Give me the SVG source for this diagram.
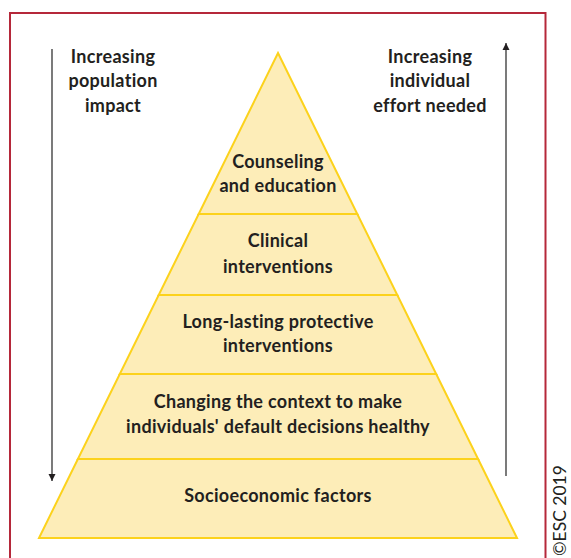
<svg xmlns="http://www.w3.org/2000/svg" width="571" height="558" viewBox="0 0 571 558">
<defs>
<style>
.t{font-family:Lato,"Open Sans","Liberation Sans",sans-serif;font-weight:bold;font-size:18px;letter-spacing:0.3px;fill:#231f20;text-anchor:middle}
.layer{fill:#fdedb8;stroke:#fcd21c;stroke-width:2;stroke-linejoin:miter}
.arr{stroke:#333;stroke-width:1.3;fill:none}
</style>
<marker id="ah" viewBox="0 0 10 10" refX="10" refY="5" markerWidth="7" markerHeight="10" markerUnits="userSpaceOnUse" orient="auto">
<path d="M0,0 L10,5 L0,10 Z" fill="#231f20"/>
</marker>
</defs>
<rect width="571" height="558" fill="#fff"/>
<path d="M10,560 V13 H545.5 V560" fill="none" stroke="#b5283a" stroke-width="2"/>
<g id="layer1">
<polygon class="layer" points="278,53 357.3,214 198.7,214"/>
<text class="t" x="278" y="168">Counseling</text>
<text class="t" x="278" y="192">and education</text>
</g>
<g id="layer2">
<polygon class="layer" points="198.7,214 357.3,214 397.3,295 158.7,295"/>
<text class="t" x="278" y="247">Clinical</text>
<text class="t" x="278" y="273">interventions</text>
</g>
<g id="layer3">
<polygon class="layer" points="158.7,295 397.3,295 436.2,374 119.8,374"/>
<text class="t" x="278" y="328">Long-lasting protective</text>
<text class="t" x="278" y="352">interventions</text>
</g>
<g id="layer4">
<polygon class="layer" points="119.8,374 436.2,374 478.1,459 77.9,459"/>
<text class="t" x="278" y="408">Changing the context to make</text>
<text class="t" x="278" y="433">individuals' default decisions healthy</text>
</g>
<g id="layer5">
<polygon class="layer" points="77.9,459 478.1,459 517,538 39,538"/>
<text class="t" x="278" y="502">Socioeconomic factors</text>
</g>
<g id="connectors">
<line class="arr" x1="52" y1="49" x2="52" y2="481" marker-end="url(#ah)"/>
<line class="arr" x1="506" y1="476" x2="506" y2="43" marker-end="url(#ah)"/>
</g>
<g id="label-left">
<text class="t" x="113" y="63">Increasing</text>
<text class="t" x="113" y="87">population</text>
<text class="t" x="113" y="112">impact</text>
</g>
<g id="label-right">
<text class="t" x="430" y="63">Increasing</text>
<text class="t" x="430" y="87">individual</text>
<text class="t" x="430" y="112">effort needed</text>
</g>
<text x="0" y="0" transform="translate(566,556) rotate(-90)" style="font-family:Lato,'Liberation Sans',sans-serif;font-size:17.5px;fill:#231f20">©ESC 2019</text>
</svg>
